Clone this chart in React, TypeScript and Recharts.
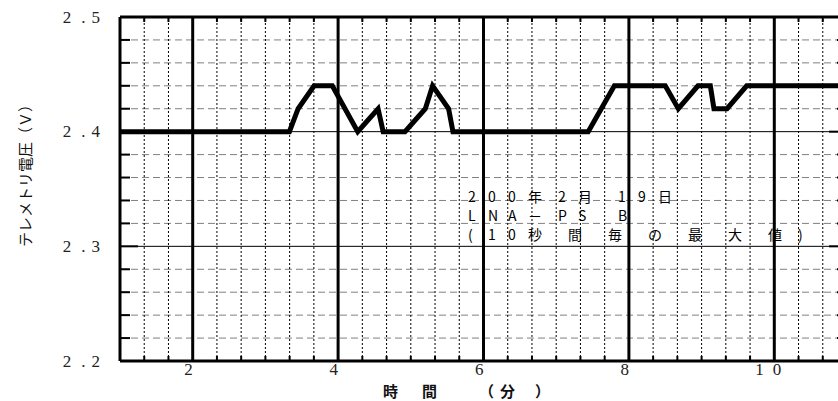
import React from 'react';
import { LineChart, Line, XAxis, YAxis, ReferenceLine } from 'recharts';

// measured trace (minutes, volts)
const timeMin = [1, 3.33, 3.45, 3.67, 3.92, 4.27, 4.55, 4.62, 4.92, 5.2, 5.3, 5.52, 5.58, 7.44, 7.8, 8.5, 8.68, 8.95, 9.12, 9.17, 9.35, 9.62, 11];
const voltage = [2.4, 2.4, 2.42, 2.44, 2.44, 2.4, 2.42, 2.4, 2.4, 2.42, 2.44, 2.42, 2.4, 2.4, 2.44, 2.44, 2.42, 2.44, 2.44, 2.42, 2.42, 2.44, 2.44];

const xTickValues = [2, 4, 6, 8, 10];
const xTickLabels = ['2', '4', '6', '8', '1 0'];
const yTickValues = [2.2, 2.3, 2.4, 2.5];
const yTickLabels = ['2 . 2', '2 . 3', '2 . 4', '2 . 5'];

const xTitle = ['時', '間', '（', '分', '）'];
const yTitle = 'テレメトリ電圧（Ｖ）';
const noteLines = ['200年 2月  19日', 'LNA－ PS  B', '(10秒  間  毎  の  最  大  値 )'];

const data = timeMin.map((t, i) => ({ t, v: voltage[i] }));

const SERIF = '"Liberation Serif", "Times New Roman", serif';
const GOTHIC = '"Noto Sans CJK JP", "Noto Sans", sans-serif';

// grid positions: every 20 s across x, every 0.02 V across y
const minorX: number[] = [];
for (let k = 4; k <= 32; k++) {
  if (k % 6 !== 0) minorX.push(k / 3);
}
const gridY: number[] = [];
for (let j = 0; j <= 15; j++) gridY.push((110 + j) / 50);

const X_PER_PX = 10 / 727;
const Y_PER_PX = 0.3 / 344;

const serifStyle = { fontFamily: SERIF, fontSize: 17 };
const gothicStyle = { fontFamily: GOTHIC, fontSize: 15 };

const XTick = (props: any) => {
  const { x, y, payload } = props;
  const idx = xTickValues.indexOf(payload.value);
  const parts = (xTickLabels[idx] ?? String(payload.value)).split(' ');
  if (parts.length === 1) {
    return (
      <text x={x} y={y} dy={13.5} textAnchor="end" fontFamily={SERIF} style={serifStyle} fill="#222">
        {parts[0]}
      </text>
    );
  }
  return (
    <text x={x - 19} y={y} dy={13.5} textAnchor="start" fontFamily={SERIF} style={serifStyle} fill="#222">
      {parts.map((p, i) => (
        <tspan key={i} dx={i === 0 ? 0 : 9}>{p}</tspan>
      ))}
    </text>
  );
};

const YTick = (props: any) => {
  const { y, payload } = props;
  const idx = yTickValues.indexOf(payload.value);
  const parts = (yTickLabels[idx] ?? '').split(' ');
  return (
    <text x={100} y={y} dy={5.8} textAnchor="end" fontFamily={SERIF} style={serifStyle} fill="#222">
      <tspan>{parts[0]}</tspan>
      <tspan dx={10}>{parts[1]}</tspan>
      <tspan dx={6}>{parts[2]}</tspan>
    </text>
  );
};

function cellLayout(line: string, x0: number) {
  const out: { ch: string; x: number }[] = [];
  let x = x0;
  for (const ch of line) {
    if (ch === ' ') {
      x += 10;
    } else {
      out.push({ ch, x });
      x += 20;
    }
  }
  return out;
}

export default function App() {
  return (
    <div style={{ position: 'absolute', left: 0, top: 0, width: 838, height: 401, overflow: 'hidden', background: '#fff' }}>
      <LineChart width={860} height={401} data={data} margin={{ top: 17, right: 13, bottom: 0, left: 0 }}>
        <XAxis
          type="number"
          dataKey="t"
          domain={[1, 11]}
          allowDataOverflow
          ticks={xTickValues}
          interval={0}
          height={40}
          tickSize={0}
          tickMargin={0}
          tickLine={false}
          axisLine={{ stroke: '#000', strokeWidth: 3 }}
          tick={<XTick />}
        />
        <YAxis
          type="number"
          domain={[2.2, 2.5]}
          allowDataOverflow
          ticks={yTickValues}
          interval={0}
          width={120}
          tickSize={0}
          tickMargin={0}
          tickLine={false}
          axisLine={{ stroke: '#000', strokeWidth: 3 }}
          tick={<YTick />}
        />

        {/* horizontal grid */}
        {gridY.slice(1, -1).map((v, j) => (
          <ReferenceLine
            key={'h' + j}
            y={v}
            stroke={(j + 1) % 5 === 0 ? '#000' : '#808080'}
            strokeWidth={1}
            strokeDasharray={(j + 1) % 5 === 0 ? undefined : '7 4'}
          />
        ))}

        {/* dotted verticals */}
        {minorX.map((v, i) => (
          <ReferenceLine key={'v' + i} x={v} stroke="#000" strokeWidth={1} strokeDasharray="2 2" />
        ))}

        {/* small ticks on top and bottom edges */}
        {minorX.map((v, i) => (
          <ReferenceLine
            key={'tb' + i}
            segment={[{ x: v, y: 2.2 }, { x: v, y: 2.2 + 5 * Y_PER_PX }]}
            stroke="#000"
            strokeWidth={2}
          />
        ))}
        {minorX.map((v, i) => (
          <ReferenceLine
            key={'tt' + i}
            segment={[{ x: v, y: 2.5 }, { x: v, y: 2.5 - 5 * Y_PER_PX }]}
            stroke="#000"
            strokeWidth={2}
          />
        ))}

        {/* ticks on left and right edges */}
        {gridY.map((v, j) => (
          <ReferenceLine
            key={'tl' + j}
            segment={[{ x: 1, y: v }, { x: 1 + (j % 5 === 0 ? 18 : 10) * X_PER_PX, y: v }]}
            stroke="#000"
            strokeWidth={2}
          />
        ))}
        {gridY.map((v, j) => (
          <ReferenceLine
            key={'tr' + j}
            segment={[{ x: 11, y: v }, { x: 11 - (j % 5 === 0 ? 18 : 10) * X_PER_PX, y: v }]}
            stroke="#000"
            strokeWidth={2}
          />
        ))}

        {/* major verticals and frame */}
        {xTickValues.map((v) => (
          <ReferenceLine key={'m' + v} x={v} stroke="#000" strokeWidth={3} />
        ))}
        <ReferenceLine y={2.5} stroke="#000" strokeWidth={3} />
        <ReferenceLine x={11} stroke="#000" strokeWidth={3} />

        <Line
          type="linear"
          dataKey="v"
          stroke="#000"
          strokeWidth={5}
          dot={false}
          activeDot={false}
          isAnimationActive={false}
        />
      </LineChart>

      <svg width={838} height={401} style={{ position: 'absolute', left: 0, top: 0, pointerEvents: 'none' }}>
        <text
          x={24}
          y={172}
          transform="rotate(-90 24 172)"
          textAnchor="middle"
          dominantBaseline="central"
          style={gothicStyle}
          fill="#111"
        >
          {yTitle}
        </text>
        <text x={383} y={397} style={{ ...gothicStyle, fontWeight: 700 }} fill="#111">
          <tspan>{xTitle[0]}</tspan>
          <tspan dx={24}>{xTitle[1]}</tspan>
          <tspan dx={42}>{xTitle[2]}</tspan>
          <tspan dx={6}>{xTitle[3]}</tspan>
          <tspan dx={20}>{xTitle[4]}</tspan>
        </text>
        {noteLines.map((line, li) => (
          <text key={li} y={202 + li * 19} style={{ fontFamily: GOTHIC, fontSize: 14 }} fill="#000">
            {cellLayout(line, 468).map((c, ci) => (
              <tspan key={ci} x={c.x}>{c.ch}</tspan>
            ))}
          </text>
        ))}
      </svg>
    </div>
  );
}
